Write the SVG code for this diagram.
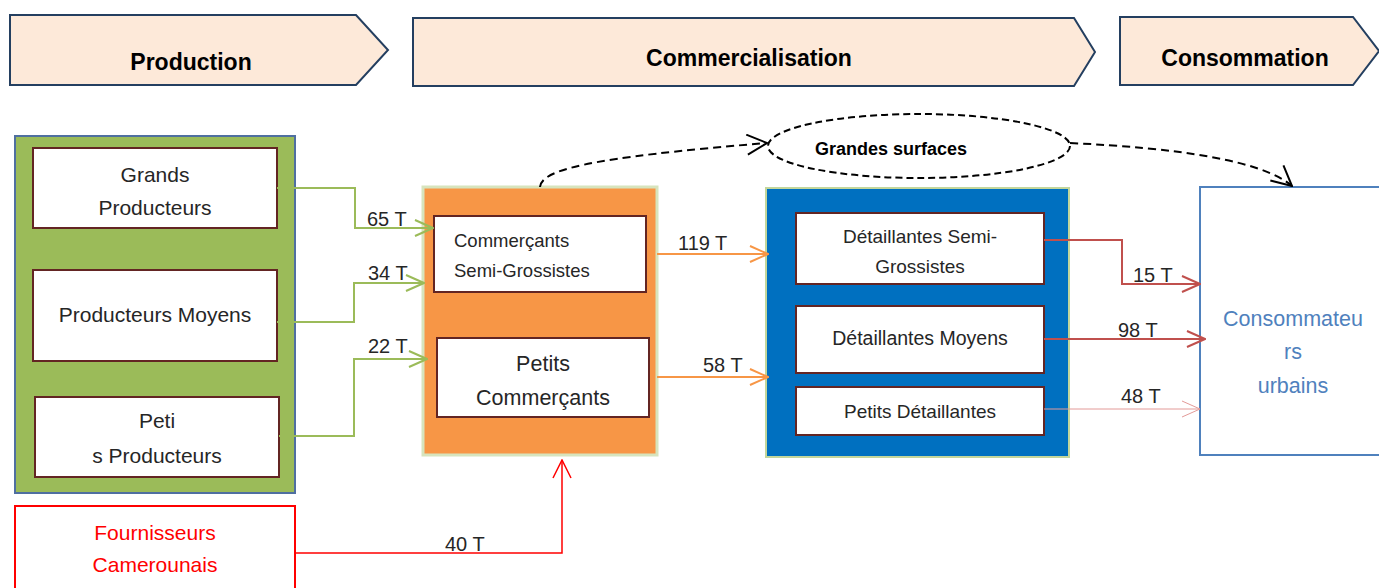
<svg xmlns="http://www.w3.org/2000/svg" width="1379" height="588" viewBox="0 0 1379 588">
<style>
.hdr{fill:#FDE9D9;stroke:#243F60;stroke-width:2}
.htxt{font-family:"Liberation Sans",Arial,sans-serif;font-weight:bold;font-size:23px;fill:#000;text-anchor:middle}
.inner{fill:#fff;stroke:#632523;stroke-width:2}
.t{font-family:"Liberation Sans",Arial,sans-serif;fill:#262626;text-anchor:middle}
.lbl{font-family:"Liberation Sans",Arial,sans-serif;font-size:20px;fill:#262626}
.g{fill:none;stroke:#9BBB59;stroke-width:2}
.o{fill:none;stroke:#F79646;stroke-width:2}
.r{fill:none;stroke:#C0504D;stroke-width:2}
.d{fill:none;stroke:#000;stroke-width:2;stroke-dasharray:8,5}
</style>
<defs>
<marker id="ag" viewBox="0 0 20 20" refX="19" refY="10" markerWidth="20" markerHeight="20" markerUnits="userSpaceOnUse" orient="auto"><path d="M1,2 L19,10 L1,18" fill="none" stroke="#9BBB59" stroke-width="2"/></marker>
<marker id="ao" viewBox="0 0 20 20" refX="19" refY="10" markerWidth="20" markerHeight="20" markerUnits="userSpaceOnUse" orient="auto"><path d="M1,2 L19,10 L1,18" fill="none" stroke="#F79646" stroke-width="2"/></marker>
<marker id="ar" viewBox="0 0 20 20" refX="19" refY="10" markerWidth="20" markerHeight="20" markerUnits="userSpaceOnUse" orient="auto"><path d="M1,2 L19,10 L1,18" fill="none" stroke="#C0504D" stroke-width="2"/></marker>
<marker id="arl" viewBox="0 0 20 20" refX="19" refY="10" markerWidth="20" markerHeight="20" markerUnits="userSpaceOnUse" orient="auto"><path d="M1,2 L19,10 L1,18" fill="none" stroke="#E39A98" stroke-width="1"/></marker>
<marker id="arr" viewBox="0 0 20 20" refX="19" refY="10" markerWidth="20" markerHeight="20" markerUnits="userSpaceOnUse" orient="auto"><path d="M1,1 L19,10 L1,19" fill="none" stroke="#FF0000" stroke-width="1.5"/></marker>
<marker id="ad" viewBox="0 0 22 22" refX="21" refY="11" markerWidth="22" markerHeight="22" markerUnits="userSpaceOnUse" orient="auto"><path d="M1,1 L21,11 L1,21" fill="none" stroke="#000" stroke-width="2"/></marker>
</defs>
<rect width="1379" height="588" fill="#fff"/>

<g id="hdr-production">
<path class="hdr" d="M10,15 H356 L388,50 L356,85 H10 Z"/>
<text class="htxt" x="191" y="70">Production</text>
</g>
<g id="hdr-commercialisation">
<path class="hdr" d="M413,18 H1074 L1095,52 L1074,86 H413 Z"/>
<text class="htxt" x="749" y="66">Commercialisation</text>
</g>
<g id="hdr-consommation">
<path class="hdr" d="M1120,17 H1353 L1379,51 L1353,85 H1120 Z"/>
<text class="htxt" x="1245" y="66">Consommation</text>
</g>

<g id="production">
<rect x="15" y="136" width="280" height="357" fill="#9BBB59" stroke="#4F6FA0" stroke-width="2"/>
</g>
<g id="grands-producteurs">
<rect class="inner" x="33" y="148" width="244" height="80"/>
<text class="t" font-size="21" x="155" y="182">Grands</text>
<text class="t" font-size="21" x="155" y="215">Producteurs</text>
</g>
<g id="producteurs-moyens">
<rect class="inner" x="33" y="270" width="244" height="91"/>
<text class="t" font-size="21" x="155" y="322">Producteurs Moyens</text>
</g>
<g id="petits-producteurs">
<rect class="inner" x="35" y="397" width="244" height="80"/>
<text class="t" font-size="21" x="157" y="428">Peti</text>
<text class="t" font-size="21" x="157" y="463">s Producteurs</text>
</g>

<g id="commercialisation">
<rect x="423" y="187" width="234" height="268" fill="#F79646" stroke="#D7E4BD" stroke-width="3"/>
</g>
<g id="commercants-semi-grossistes">
<rect class="inner" x="434" y="216" width="212" height="76"/>
<text class="t" font-size="18.5" x="454" y="247" style="text-anchor:start">Commerçants</text>
<text class="t" font-size="18.5" x="454" y="277" style="text-anchor:start">Semi-Grossistes</text>
</g>
<g id="petits-commercants">
<rect class="inner" x="437" y="338" width="212" height="79"/>
<text class="t" font-size="21.5" x="543" y="371">Petits</text>
<text class="t" font-size="21.5" x="543" y="405">Commerçants</text>
</g>

<g id="detaillants">
<rect x="766" y="188" width="303" height="269" fill="#0070C0" stroke="#C3D69B" stroke-width="2"/>
</g>
<g id="detaillantes-semi-grossistes">
<rect class="inner" x="796" y="213" width="248" height="71"/>
<text class="t" font-size="19" x="920" y="243">Détaillantes Semi-</text>
<text class="t" font-size="19" x="920" y="273">Grossistes</text>
</g>
<g id="detaillantes-moyens">
<rect class="inner" x="796" y="306" width="248" height="67"/>
<text class="t" font-size="19.5" x="920" y="345">Détaillantes Moyens</text>
</g>
<g id="petits-detaillantes">
<rect class="inner" x="796" y="387" width="248" height="48"/>
<text class="t" font-size="19" x="920" y="418">Petits Détaillantes</text>
</g>

<g id="grandes-surfaces">
<ellipse cx="919" cy="146" rx="151" ry="32" fill="#fff" stroke="#000" stroke-width="2" stroke-dasharray="7,4"/>
<text class="t" font-size="18" font-weight="bold" x="891" y="155" style="fill:#000">Grandes surfaces</text>
</g>

<g id="consommateurs">
<rect x="1200" y="187" width="185" height="268" fill="#fff" stroke="#4F81BD" stroke-width="2"/>
<text class="t" font-size="21.5" x="1293" y="326" style="fill:#4F81BD">Consommateu</text>
<text class="t" font-size="21.5" x="1293" y="359" style="fill:#4F81BD">rs</text>
<text class="t" font-size="21.5" x="1293" y="393" style="fill:#4F81BD">urbains</text>
</g>

<g id="fournisseurs">
<rect x="15" y="506" width="280" height="90" fill="#fff" stroke="#FF0000" stroke-width="2"/>
<text class="t" font-size="21" x="155" y="540" style="fill:#FF0000">Fournisseurs</text>
<text class="t" font-size="21" x="155" y="572" style="fill:#FF0000">Camerounais</text>
</g>

<g id="connectors">
<polyline class="g" points="277,188 355,188 355,228 433,228" marker-end="url(#ag)"/>
<polyline class="g" points="277,322 354,322 354,283 424,283" marker-end="url(#ag)"/>
<polyline class="g" points="279,436 354,436 354,359 427,359" marker-end="url(#ag)"/>
<line class="o" x1="657" y1="254" x2="768" y2="254" marker-end="url(#ao)"/>
<line class="o" x1="657" y1="377" x2="768" y2="377" marker-end="url(#ao)"/>
<polyline class="r" points="1044,240 1122,240 1122,284 1200,284" marker-end="url(#ar)"/>
<line class="r" x1="1044" y1="339" x2="1205" y2="339" marker-end="url(#ar)"/>
<line x1="1044" y1="409" x2="1200" y2="409" stroke="#E39A98" stroke-width="1" marker-end="url(#arl)"/>
<polyline points="295,553 562,553 562,460" fill="none" stroke="#FF0000" stroke-width="1.5" marker-end="url(#arr)"/>
<path class="d" d="M540,187 C542,170 585,158 767,143" marker-end="url(#ad)"/>
<path class="d" d="M1070,143 C1175,148 1262,160 1292,186" marker-end="url(#ad)"/>
<text class="lbl" x="367" y="226">65 T</text>
<text class="lbl" x="368" y="280">34 T</text>
<text class="lbl" x="368" y="353">22 T</text>
<text class="lbl" x="678" y="250">119 T</text>
<text class="lbl" x="703" y="372">58 T</text>
<text class="lbl" x="1133" y="282">15 T</text>
<text class="lbl" x="1118" y="337">98 T</text>
<text class="lbl" x="1121" y="403">48 T</text>
<text class="lbl" x="445" y="551">40 T</text>
</g>
</svg>
